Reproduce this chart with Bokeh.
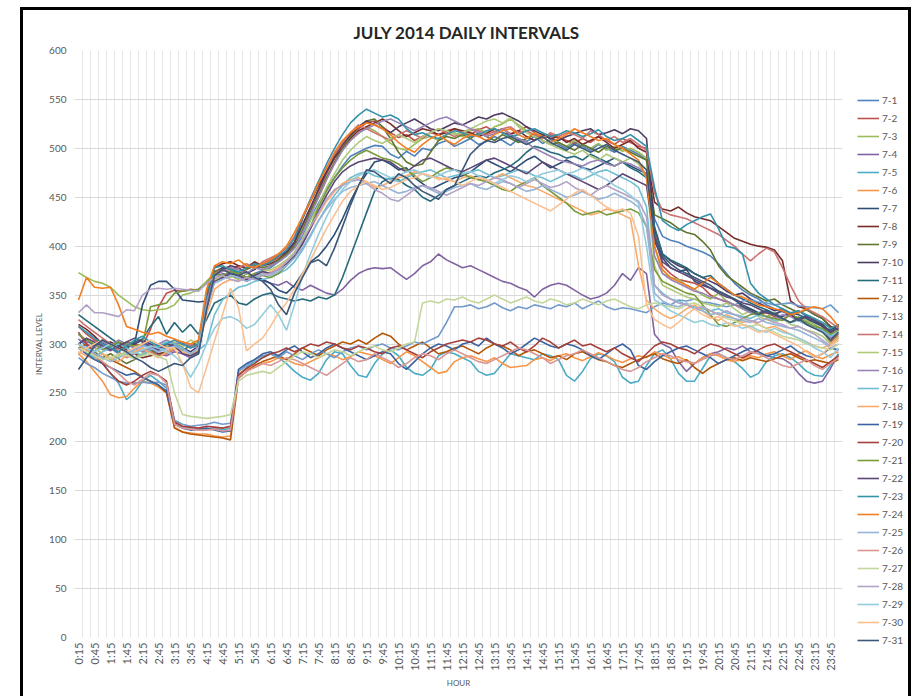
import math
from bokeh.plotting import figure
from bokeh.layouts import row
from bokeh.models import FixedTicker, Range1d, Legend, LegendItem
from bokeh.embed import file_html
from bokeh.resources import INLINE

# 15-minute interval categories 0:15 ... 24:00
times = []
for k in range(96):
    m = 15 * (k + 1)
    times.append(f"{m // 60}:{m % 60:02d}")

jul01 = [305, 298, 292, 300, 296, 290, 288, 295, 300, 297, 293, 296,
         299, 302, 296, 300, 348, 372, 368, 374, 370, 366, 372, 375,
         378, 384, 390, 398, 410, 428, 444, 458, 470, 482, 492, 496,
         500, 503, 502, 494, 490, 497, 492, 500, 498, 505, 508, 502,
         506, 510, 504, 507, 512, 508, 503, 510, 507, 512, 505, 509,
         504, 500, 506, 502, 498, 504, 500, 496, 502, 498, 494, 488,
         428, 410, 406, 404, 400, 397, 394, 390, 382, 372, 362, 355,
         350, 346, 340, 336, 333, 330, 334, 328, 324, 320, 312, 318]
jul02 = [318, 310, 304, 300, 297, 295, 302, 300, 298, 315, 338, 352,
         355, 354, 356, 355, 362, 374, 378, 376, 380, 377, 382, 380,
         384, 388, 392, 402, 420, 438, 456, 474, 490, 502, 512, 520,
         526, 528, 522, 516, 511, 514, 508, 512, 516, 514, 518, 520,
         516, 514, 519, 522, 517, 520, 515, 518, 522, 516, 510, 514,
         511, 508, 505, 510, 506, 512, 508, 504, 510, 506, 502, 500,
         415, 380, 372, 366, 364, 362, 358, 350, 346, 343, 340, 338,
         335, 330, 332, 328, 325, 330, 326, 322, 326, 318, 302, 310]
jul03 = [373, 368, 364, 362, 358, 350, 344, 338, 335, 334, 335, 336,
         340, 350, 352, 356, 364, 372, 368, 370, 366, 372, 370, 374,
         380, 385, 392, 400, 418, 432, 450, 468, 485, 498, 508, 515,
         522, 518, 512, 505, 500, 498, 504, 510, 512, 508, 514, 516,
         512, 518, 520, 516, 522, 525, 530, 524, 518, 512, 515, 510,
         506, 502, 508, 504, 500, 505, 498, 502, 497, 500, 496, 490,
         400, 372, 368, 366, 360, 356, 350, 346, 352, 344, 340, 336,
         333, 330, 328, 332, 326, 322, 328, 324, 320, 315, 300, 308]
jul04 = [310, 302, 300, 296, 293, 298, 300, 296, 292, 295, 290, 288,
         292, 290, 286, 290, 340, 366, 372, 370, 368, 364, 368, 365,
         362, 360, 364, 358, 355, 360, 356, 352, 350, 356, 365, 372,
         376, 378, 377, 378, 372, 366, 372, 380, 384, 392, 386, 382,
         378, 380, 376, 372, 368, 364, 362, 358, 355, 348, 356, 360,
         362, 360, 355, 350, 346, 348, 352, 360, 372, 365, 378, 372,
         310, 300, 296, 282, 272, 280, 286, 290, 292, 296, 294, 298,
         292, 290, 288, 286, 285, 280, 270, 262, 260, 262, 275, 290]
jul05 = [300, 292, 286, 280, 270, 260, 243, 250, 262, 268, 262, 255,
         222, 215, 214, 212, 213, 214, 212, 214, 268, 276, 282, 286,
         290, 286, 280, 272, 266, 263, 270, 284, 292, 290, 278, 268,
         266, 280, 290, 294, 288, 276, 270, 268, 274, 288, 292, 290,
         286, 282, 272, 268, 270, 280, 290, 288, 286, 284, 290, 288,
         284, 268, 262, 272, 285, 290, 288, 282, 266, 260, 262, 278,
         290, 294, 285, 270, 262, 262, 275, 288, 290, 286, 282, 275,
         266, 270, 282, 288, 290, 286, 280, 272, 268, 267, 278, 290]
jul06 = [290, 282, 272, 262, 248, 245, 246, 255, 262, 260, 256, 250,
         215, 210, 209, 208, 208, 206, 205, 206, 270, 274, 276, 280,
         282, 286, 284, 280, 278, 282, 286, 290, 288, 284, 287, 292,
         290, 288, 284, 280, 286, 292, 288, 282, 276, 270, 272, 282,
         286, 288, 285, 282, 286, 280, 276, 277, 278, 284, 286, 283,
         288, 290, 286, 283, 287, 291, 288, 284, 281, 285, 288, 286,
         292, 289, 285, 287, 283, 280, 286, 290, 288, 284, 282, 285,
         288, 286, 290, 292, 288, 284, 290, 293, 288, 285, 289, 292]
jul07 = [300, 305, 298, 302, 296, 292, 298, 300, 340, 360, 364, 364,
         356, 345, 344, 343, 344, 372, 378, 376, 372, 368, 370, 366,
         362, 355, 352, 360, 372, 384, 390, 400, 412, 428, 446, 462,
         474, 486, 488, 484, 478, 480, 470, 464, 458, 462, 466, 470,
         472, 476, 482, 488, 484, 480, 476, 482, 488, 492, 486, 480,
         484, 488, 484, 480, 478, 482, 486, 490, 486, 482, 478, 474,
         405, 388, 378, 374, 376, 364, 360, 357, 354, 350, 345, 340,
         336, 332, 334, 330, 328, 332, 330, 326, 322, 318, 314, 320]
jul08 = [320, 315, 308, 300, 302, 298, 294, 290, 286, 288, 290, 292,
         296, 300, 298, 302, 345, 378, 382, 384, 380, 378, 384, 380,
         382, 386, 394, 404, 428, 446, 462, 476, 490, 500, 510, 518,
         522, 526, 530, 525, 518, 512, 516, 520, 518, 514, 516, 520,
         518, 516, 512, 515, 520, 516, 514, 518, 512, 508, 514, 510,
         512, 506, 510, 504, 508, 512, 506, 500, 504, 508, 500, 496,
         445, 438, 436, 440, 434, 430, 428, 426, 420, 414, 408, 405,
         402, 400, 399, 396, 385, 344, 338, 336, 330, 326, 318, 314]
jul09 = [296, 300, 292, 286, 290, 285, 280, 284, 290, 294, 288, 292,
         296, 294, 298, 302, 350, 374, 376, 378, 372, 376, 380, 378,
         380, 386, 392, 400, 416, 436, 452, 470, 486, 500, 512, 522,
         528, 530, 522, 510, 496, 486, 482, 484, 496, 508, 512, 510,
         514, 510, 516, 512, 508, 514, 510, 506, 510, 514, 508, 504,
         506, 502, 498, 504, 500, 496, 502, 498, 500, 496, 492, 488,
         432, 428, 424, 418, 414, 412, 405, 396, 380, 370, 364, 358,
         352, 348, 344, 346, 340, 336, 332, 335, 330, 326, 316, 320]
jul10 = [290, 296, 300, 304, 298, 302, 296, 300, 304, 300, 296, 298,
         300, 296, 292, 298, 342, 370, 376, 380, 378, 372, 376, 382,
         386, 390, 394, 404, 422, 440, 458, 476, 492, 504, 514, 522,
         528, 524, 520, 516, 522, 526, 530, 525, 520, 518, 522, 526,
         524, 528, 532, 530, 534, 536, 532, 528, 522, 518, 514, 510,
         508, 512, 515, 518, 520, 514, 516, 519, 515, 520, 518, 510,
         418, 392, 385, 380, 377, 372, 368, 364, 360, 354, 350, 352,
         346, 342, 338, 334, 336, 330, 326, 328, 324, 318, 310, 320]
jul11 = [330, 324, 318, 312, 306, 300, 296, 302, 305, 318, 328, 310,
         322, 312, 320, 310, 325, 342, 346, 350, 342, 340, 346, 350,
         352, 348, 346, 344, 346, 344, 348, 346, 350, 368, 390, 412,
         434, 456, 466, 470, 468, 462, 458, 450, 446, 452, 458, 462,
         466, 470, 472, 470, 475, 478, 482, 488, 496, 502, 500, 496,
         494, 490, 492, 488, 494, 490, 486, 482, 486, 480, 476, 470,
         420, 392, 386, 382, 378, 372, 368, 370, 362, 356, 350, 346,
         342, 338, 335, 331, 334, 330, 326, 329, 324, 320, 312, 318]
jul12 = [295, 300, 296, 290, 284, 280, 276, 272, 266, 262, 258, 250,
         214, 210, 208, 207, 206, 205, 204, 202, 265, 272, 278, 282,
         285, 288, 284, 290, 296, 292, 288, 294, 298, 302, 300, 304,
         300, 306, 311, 308, 300, 294, 298, 302, 296, 290, 292, 296,
         298, 294, 290, 296, 300, 298, 294, 288, 292, 294, 290, 286,
         288, 284, 290, 292, 288, 284, 282, 278, 276, 280, 284, 287,
         290, 285, 282, 280, 284, 276, 270, 276, 280, 284, 286, 283,
         286, 284, 282, 285, 288, 290, 286, 282, 284, 282, 280, 284]
jul13 = [286, 280, 276, 270, 266, 262, 260, 260, 261, 260, 261, 258,
         222, 218, 216, 217, 218, 220, 218, 219, 272, 278, 284, 288,
         290, 286, 292, 288, 284, 290, 294, 290, 286, 292, 296, 298,
         294, 298, 300, 296, 294, 298, 302, 300, 304, 308, 322, 338,
         338, 340, 336, 338, 342, 337, 334, 338, 336, 340, 338, 336,
         340, 338, 342, 336, 340, 344, 338, 335, 337, 336, 334, 332,
         338, 342, 340, 345, 344, 346, 343, 342, 340, 338, 340, 344,
         345, 343, 342, 340, 341, 342, 339, 338, 337, 336, 340, 332]
jul14 = [325, 318, 312, 306, 300, 292, 286, 290, 296, 292, 288, 290,
         294, 298, 300, 296, 338, 372, 376, 374, 378, 382, 378, 384,
         388, 392, 398, 410, 430, 448, 466, 480, 494, 506, 516, 524,
         520, 516, 512, 508, 514, 518, 514, 510, 516, 520, 516, 512,
         516, 520, 518, 514, 517, 520, 522, 516, 518, 514, 510, 516,
         512, 516, 514, 510, 518, 514, 508, 512, 506, 510, 504, 498,
         455, 436, 432, 430, 428, 424, 420, 416, 412, 406, 400, 392,
         385, 392, 398, 394, 378, 360, 344, 336, 332, 328, 322, 316]
jul15 = [300, 292, 296, 290, 284, 288, 292, 286, 290, 296, 300, 298,
         302, 298, 304, 300, 340, 366, 370, 368, 372, 366, 370, 374,
         376, 380, 386, 394, 408, 426, 442, 460, 474, 488, 498, 506,
         512, 508, 505, 510, 514, 510, 506, 512, 516, 520, 518, 514,
         516, 520, 524, 528, 530, 526, 531, 522, 516, 512, 508, 504,
         500, 497, 494, 498, 492, 488, 494, 490, 486, 490, 484, 470,
         380, 360, 356, 352, 348, 346, 342, 340, 338, 342, 336, 330,
         334, 328, 325, 322, 326, 320, 318, 314, 312, 308, 300, 306]
jul16 = [305, 300, 296, 302, 298, 304, 300, 296, 292, 296, 300, 304,
         300, 302, 298, 296, 344, 370, 374, 378, 376, 372, 378, 376,
         380, 384, 390, 398, 414, 432, 450, 468, 484, 498, 508, 516,
         520, 524, 528, 530, 526, 522, 518, 522, 526, 530, 532, 528,
         524, 520, 516, 512, 515, 520, 514, 510, 506, 500, 496, 492,
         488, 486, 484, 482, 486, 488, 484, 482, 486, 484, 480, 474,
         390, 372, 366, 362, 358, 354, 352, 348, 346, 344, 340, 336,
         332, 330, 328, 326, 330, 328, 324, 320, 316, 314, 306, 312]
jul17 = [296, 290, 286, 292, 296, 300, 296, 292, 288, 294, 298, 302,
         300, 296, 290, 294, 300, 330, 345, 352, 358, 360, 364, 366,
         368, 372, 376, 384, 396, 410, 426, 440, 452, 462, 470, 474,
         476, 472, 470, 468, 466, 470, 474, 476, 478, 474, 470, 472,
         474, 476, 478, 474, 470, 472, 475, 478, 476, 472, 470, 466,
         470, 474, 472, 468, 472, 476, 478, 474, 470, 466, 460, 440,
         360, 352, 346, 344, 340, 338, 336, 334, 336, 332, 330, 328,
         326, 330, 328, 324, 326, 322, 324, 320, 318, 314, 308, 312]
jul18 = [292, 288, 284, 290, 286, 282, 288, 292, 296, 290, 286, 292,
         296, 292, 288, 294, 330, 356, 362, 366, 364, 368, 372, 370,
         374, 378, 384, 392, 404, 418, 432, 446, 456, 464, 468, 470,
         466, 460, 462, 466, 470, 472, 476, 474, 472, 470, 468, 466,
         470, 472, 468, 466, 470, 474, 470, 466, 462, 460, 456, 452,
         448, 444, 440, 436, 432, 434, 438, 436, 432, 428, 380, 345,
         336, 330, 326, 330, 336, 340, 334, 328, 324, 330, 326, 322,
         324, 320, 316, 318, 314, 310, 306, 302, 298, 296, 300, 306]
jul19 = [296, 290, 284, 280, 276, 272, 268, 270, 266, 262, 258, 252,
         218, 214, 212, 213, 214, 212, 210, 211, 274, 280, 284, 290,
         292, 288, 294, 298, 292, 286, 290, 296, 300, 296, 292, 288,
         284, 288, 292, 290, 280, 274, 282, 290, 296, 300, 298, 294,
         300, 302, 298, 306, 300, 296, 290, 294, 300, 306, 302, 298,
         296, 300, 298, 294, 288, 284, 290, 296, 300, 294, 278, 274,
         282, 288, 292, 296, 298, 294, 290, 286, 280, 284, 288, 292,
         296, 292, 288, 290, 294, 298, 292, 288, 286, 290, 296, 294]
jul20 = [312, 300, 290, 280, 270, 262, 258, 262, 268, 272, 268, 262,
         220, 216, 215, 214, 216, 215, 214, 216, 268, 275, 280, 286,
         290, 292, 296, 292, 296, 300, 298, 302, 300, 296, 294, 298,
         296, 292, 290, 296, 298, 294, 290, 286, 292, 296, 300, 302,
         304, 302, 306, 304, 300, 298, 302, 296, 292, 298, 306, 302,
         296, 300, 304, 298, 300, 296, 292, 296, 290, 286, 282, 290,
         298, 302, 300, 296, 294, 290, 296, 300, 298, 294, 290, 286,
         290, 294, 298, 300, 296, 292, 288, 284, 280, 276, 282, 288]
jul21 = [310, 304, 300, 294, 298, 302, 300, 298, 300, 338, 340, 342,
         352, 354, 355, 356, 362, 372, 370, 374, 372, 368, 372, 370,
         368, 372, 380, 390, 404, 420, 440, 456, 470, 480, 488, 494,
         498, 494, 490, 488, 484, 478, 472, 466, 470, 476, 480, 478,
         474, 470, 468, 466, 462, 458, 456, 462, 466, 470, 462, 456,
         450, 444, 436, 432, 434, 436, 432, 434, 436, 438, 434, 420,
         376, 364, 360, 356, 352, 350, 340, 330, 320, 318, 322, 326,
         330, 332, 328, 326, 324, 330, 326, 322, 318, 316, 310, 314]
jul22 = [300, 306, 302, 298, 294, 298, 302, 306, 302, 298, 294, 300,
         298, 290, 288, 292, 336, 364, 368, 372, 370, 366, 370, 374,
         372, 376, 382, 390, 402, 418, 436, 452, 466, 476, 482, 486,
         488, 490, 488, 486, 480, 476, 482, 488, 490, 486, 482, 478,
         476, 480, 484, 488, 490, 486, 482, 478, 474, 480, 486, 482,
         478, 474, 470, 466, 462, 458, 462, 468, 474, 470, 466, 462,
         408, 384, 378, 374, 370, 366, 362, 357, 352, 348, 346, 342,
         340, 336, 332, 330, 334, 330, 324, 328, 324, 320, 312, 316]
jul23 = [318, 312, 306, 300, 296, 292, 298, 304, 308, 302, 298, 300,
         304, 300, 296, 300, 352, 378, 380, 376, 374, 378, 382, 380,
         384, 390, 396, 408, 428, 448, 466, 484, 500, 514, 526, 534,
         540, 536, 532, 534, 530, 520, 514, 516, 512, 510, 514, 518,
         516, 512, 514, 518, 520, 516, 512, 514, 518, 520, 516, 512,
         514, 518, 516, 512, 515, 519, 512, 508, 510, 514, 508, 502,
         460, 426, 420, 416, 422, 426, 430, 433, 418, 400, 398, 392,
         362, 352, 346, 340, 336, 332, 334, 330, 326, 322, 316, 320]
jul24 = [345, 368, 358, 357, 358, 340, 318, 315, 312, 310, 312, 308,
         305, 302, 300, 304, 356, 380, 384, 382, 386, 380, 378, 382,
         386, 392, 400, 414, 430, 446, 464, 480, 496, 508, 516, 522,
         526, 524, 520, 514, 506, 500, 496, 504, 510, 514, 508, 504,
         510, 514, 512, 508, 514, 518, 520, 514, 510, 516, 512, 506,
         510, 514, 520, 516, 512, 508, 510, 504, 500, 494, 488, 470,
         400, 376, 368, 364, 360, 356, 362, 368, 362, 356, 350, 348,
         344, 340, 338, 336, 334, 330, 332, 336, 338, 336, 328, 318]
jul25 = [300, 296, 290, 286, 282, 286, 290, 294, 298, 296, 292, 295,
         298, 294, 290, 296, 338, 362, 366, 370, 368, 364, 368, 372,
         370, 374, 380, 388, 398, 412, 426, 438, 448, 456, 460, 462,
         464, 466, 462, 458, 454, 456, 460, 462, 458, 454, 456, 460,
         462, 464, 460, 458, 462, 466, 464, 460, 456, 458, 462, 458,
         454, 450, 452, 456, 452, 448, 450, 454, 450, 446, 440, 420,
         352, 344, 340, 338, 342, 336, 334, 330, 332, 328, 326, 324,
         322, 326, 322, 320, 318, 316, 314, 310, 306, 302, 296, 300]
jul26 = [300, 294, 288, 282, 276, 270, 262, 258, 264, 270, 268, 260,
         218, 214, 213, 212, 212, 213, 211, 212, 266, 272, 276, 280,
         278, 282, 286, 284, 280, 276, 272, 268, 274, 280, 286, 282,
         284, 290, 286, 282, 276, 280, 286, 290, 288, 284, 290, 294,
         290, 286, 282, 280, 284, 288, 292, 296, 294, 290, 286, 280,
         284, 288, 290, 294, 290, 286, 282, 278, 274, 272, 276, 282,
         286, 290, 288, 284, 282, 280, 284, 288, 290, 286, 284, 288,
         292, 290, 286, 282, 278, 276, 280, 284, 278, 274, 280, 286]
jul27 = [296, 292, 288, 284, 286, 290, 288, 285, 288, 290, 287, 284,
         250, 228, 226, 225, 224, 225, 226, 228, 262, 268, 270, 272,
         270, 276, 282, 288, 292, 290, 286, 290, 294, 292, 288, 292,
         296, 298, 294, 292, 296, 300, 302, 342, 344, 342, 346, 345,
         348, 344, 342, 346, 350, 346, 342, 345, 348, 344, 342, 346,
         344, 340, 342, 346, 343, 340, 344, 346, 342, 338, 336, 340,
         342, 340, 338, 336, 340, 342, 338, 334, 330, 326, 324, 320,
         318, 320, 316, 312, 308, 306, 304, 300, 298, 296, 294, 300]
jul28 = [332, 340, 332, 332, 330, 328, 335, 334, 350, 356, 357, 356,
         357, 356, 355, 354, 362, 368, 370, 366, 364, 368, 366, 370,
         372, 376, 384, 392, 406, 420, 434, 448, 458, 462, 466, 468,
         464, 458, 454, 448, 446, 452, 458, 462, 460, 456, 452, 456,
         460, 464, 462, 466, 470, 468, 464, 460, 464, 468, 464, 460,
         462, 466, 460, 456, 452, 458, 462, 458, 454, 450, 446, 430,
         360, 350, 346, 342, 340, 336, 338, 334, 330, 334, 330, 326,
         324, 322, 326, 322, 320, 316, 318, 314, 310, 304, 298, 304]
jul29 = [300, 296, 292, 296, 300, 296, 292, 290, 294, 298, 296, 292,
         288, 280, 266, 280, 300, 316, 326, 328, 324, 316, 320, 330,
         340, 330, 314, 340, 370, 392, 412, 430, 446, 458, 466, 472,
         476, 478, 474, 470, 472, 476, 478, 474, 470, 472, 476, 478,
         474, 476, 472, 468, 464, 468, 472, 470, 466, 470, 474, 476,
         478, 474, 476, 480, 476, 472, 468, 462, 458, 452, 444, 400,
         345, 340, 334, 330, 326, 322, 324, 320, 318, 322, 320, 316,
         318, 314, 312, 316, 312, 310, 306, 302, 296, 292, 286, 296]
jul30 = [290, 296, 300, 304, 300, 296, 292, 296, 300, 304, 300, 296,
         296, 280, 256, 250, 276, 303, 330, 357, 337, 293, 300, 306,
         318, 332, 342, 356, 372, 386, 402, 418, 432, 446, 456, 462,
         466, 462, 458, 460, 464, 468, 470, 474, 472, 468, 470, 466,
         462, 466, 470, 468, 464, 460, 456, 452, 448, 444, 440, 436,
         442, 448, 454, 458, 452, 446, 440, 436, 438, 434, 410, 340,
         325, 320, 316, 322, 330, 336, 330, 326, 328, 322, 318, 320,
         316, 312, 314, 310, 306, 302, 298, 292, 286, 290, 298, 304]
jul31 = [274, 286, 298, 304, 300, 296, 292, 286, 282, 276, 272, 276,
         280, 278, 286, 290, 335, 370, 376, 372, 370, 374, 368, 364,
         356, 340, 330, 352, 368, 383, 386, 380, 398, 420, 442, 462,
         478, 476, 470, 464, 474, 470, 462, 456, 452, 448, 458, 462,
         478, 494, 502, 508, 506, 510, 512, 508, 504, 508, 512, 506,
         502, 498, 504, 500, 496, 500, 504, 498, 494, 490, 486, 478,
         410, 390, 382, 376, 372, 368, 364, 360, 354, 350, 346, 338,
         334, 330, 334, 330, 326, 322, 326, 320, 316, 312, 304, 312]

series = [jul01, jul02, jul03, jul04, jul05, jul06, jul07, jul08, jul09, jul10,
          jul11, jul12, jul13, jul14, jul15, jul16, jul17, jul18, jul19, jul20,
          jul21, jul22, jul23, jul24, jul25, jul26, jul27, jul28, jul29, jul30, jul31]
labels = [f"7-{d}" for d in range(1, 32)]
colors = ["#4F81BD", "#C0504D", "#9BBB59", "#8064A2", "#4BACC6", "#F79646",
          "#2C4D75", "#772C2A", "#5F7530", "#4D3B62", "#276A7C", "#B65708",
          "#729ACA", "#CD7371", "#AFC97A", "#9983B5", "#6FBDD1", "#F9AB6B",
          "#3A64A0", "#A5403D", "#7A9A3A", "#5C4776", "#3592AB", "#F47D20",
          "#95B3D7", "#D99694", "#C3D69B", "#B3A2C7", "#93CDDD", "#FAC090",
          "#3C5778"]
y_ticks = list(range(0, 601, 50))

FONT = "Lato"
GREY = "#595959"
LINE_W = 1.6
FIG_H = 686

# ---------------- main chart ----------------
p = figure(width=821, height=FIG_H, output_backend="svg", toolbar_location=None,
           x_range=Range1d(-0.5, 95.5), y_range=Range1d(0, 600),
           min_border_left=51, min_border_right=2, min_border_top=40,
           min_border_bottom=FIG_H - 627, title="JULY 2014 DAILY INTERVALS")
p.frame_align = False
p.outline_line_color = None
p.background_fill_color = "white"
p.border_fill_color = "white"

p.title.align = "left"
p.title.offset = 279
p.title.vertical_align = "top"
p.title.text_font = FONT
p.title.text_font_style = "bold"
p.title.text_font_size = "17px"
p.title.text_color = "#262626"
p.title.standoff = 12

p.xgrid.ticker = FixedTicker(ticks=[k - 0.5 for k in range(97)])
p.xgrid.grid_line_color = "#E6E6E6"
p.xgrid.grid_line_width = 1
p.ygrid.ticker = FixedTicker(ticks=y_ticks)
p.ygrid.grid_line_color = "#D9D9D9"
p.ygrid.grid_line_width = 1

p.xaxis.ticker = FixedTicker(ticks=list(range(0, 96, 2)))
p.xaxis.major_label_overrides = {k: times[k] for k in range(0, 96, 2)}
p.xaxis.major_label_orientation = math.pi / 2
p.xaxis.axis_label = "HOUR"
p.yaxis.ticker = FixedTicker(ticks=y_ticks)
p.yaxis.axis_label = "INTERVAL LEVEL"
for ax in (p.xaxis[0], p.yaxis[0]):
    ax.axis_line_color = None
    ax.major_tick_line_color = None
    ax.minor_tick_line_color = None
    ax.major_tick_out = 0
    ax.major_tick_in = 0
    ax.minor_tick_out = 0
    ax.minor_tick_in = 0
    ax.major_label_text_font = FONT
    ax.major_label_text_color = GREY
    ax.axis_label_text_font = FONT
    ax.axis_label_text_font_size = "8px"
    ax.axis_label_text_font_style = "normal"
    ax.axis_label_text_color = GREY
p.xaxis.major_label_text_font_size = "11px"
p.yaxis.major_label_text_font_size = "10px"
p.xaxis.major_label_standoff = 5
p.xaxis.axis_label_standoff = 4
p.yaxis.major_label_standoff = 8
p.yaxis.axis_label_standoff = 2

for vals, col in zip(series, colors):
    xs = list(range(len(vals)))
    p.line(xs, vals, line_color=col, line_width=LINE_W)

# ---------------- legend panel ----------------
# The series are repeated here only so that the legend swatches render;
# the y range keeps them out of view.
lf = figure(width=64, height=FIG_H, output_backend="svg", toolbar_location=None,
            x_range=Range1d(-0.5, 95.5), y_range=Range1d(5000, 5001),
            x_axis_type=None, y_axis_type=None,
            min_border_left=13, min_border_right=0, min_border_top=81,
            min_border_bottom=0)
lf.frame_align = False
lf.outline_line_color = None
lf.xgrid.visible = False
lf.ygrid.visible = False

items = []
for vals, lab, col in zip(series, labels, colors):
    xs = list(range(len(vals)))
    r = lf.line(xs, vals, line_color=col, line_width=LINE_W)
    items.append(LegendItem(label=lab, renderers=[r]))

legend = Legend(items=items, location="top_left")
legend.padding = 0
legend.margin = 0
legend.spacing = 0
legend.glyph_height = 18
legend.label_height = 18
legend.glyph_width = 22
legend.label_standoff = 3
legend.label_text_font = FONT
legend.label_text_font_size = "10px"
legend.label_text_color = GREY
legend.background_fill_alpha = 0
legend.border_line_alpha = 0
lf.add_layout(legend)

page = row(p, lf, margin=(7, 0, 0, 20),
           styles={"border-left": "3px solid black",
                   "border-top": "3px solid black",
                   "border-right": "3px solid black"})

open("out.html", "w").write(file_html(page, INLINE))
